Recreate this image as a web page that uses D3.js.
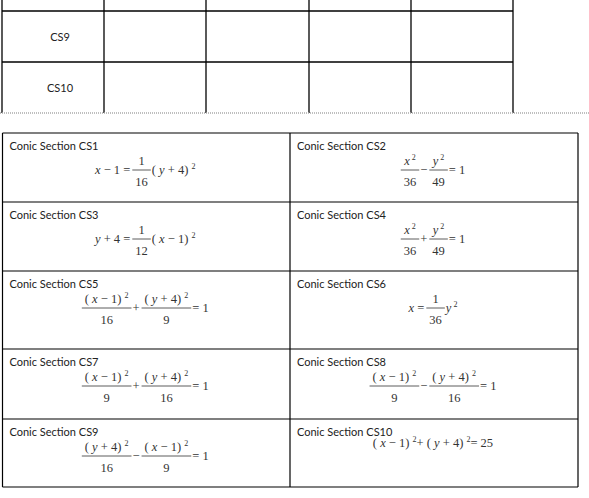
<!DOCTYPE html>
<html><head><meta charset="utf-8">
<script src="https://cdn.jsdelivr.net/npm/d3@7"></script>
<style>body{margin:0;background:#fff}</style>
</head><body><div id="chart"></div>
<script>
// top table (partial, cut off at top)
var topCols = [2, 104, 206, 309, 411, 513]
var topRows = ['CS9', 'CS10']

// bottom table
var labels = ['Conic Section CS1', 'Conic Section CS2', 'Conic Section CS3', 'Conic Section CS4',
  'Conic Section CS5', 'Conic Section CS6', 'Conic Section CS7', 'Conic Section CS8',
  'Conic Section CS9', 'Conic Section CS10']
// equation pieces: string = inline text ("^" = superscript 2), array = [numerator, denominator]
var equations = [
  ['x − 1 = ', ['1', '16'], '( y + 4) ^'],
  [['x^', '36'], ' − ', ['y^', '49'], ' = 1'],
  ['y + 4 = ', ['1', '12'], '( x − 1) ^'],
  [['x^', '36'], ' + ', ['y^', '49'], ' = 1'],
  [['( x − 1) ^', '16'], ' + ', ['( y + 4) ^', '9'], ' = 1'],
  ['x = ', ['1', '36'], 'y^'],
  [['( x − 1) ^', '9'], ' + ', ['( y + 4) ^', '16'], ' = 1'],
  [['( x − 1) ^', '9'], ' − ', ['( y + 4) ^', '16'], ' = 1'],
  [['( y + 4) ^', '16'], ' − ', ['( x − 1) ^', '9'], ' = 1'],
  ['( x − 1) ^+ ( y + 4) ^= 25']
]
var rowEdges = [133, 202, 271, 349, 419, 487]
var colEdges = [2.5, 290, 578]

var SERIF = "'Liberation Serif', 'DejaVu Serif', serif"
var SANS = 'Lato, sans-serif'

var svg = d3.select('#chart').append('svg').attr('width', 589).attr('height', 498)

// top table
var tg = svg.append('g')
topCols.forEach(function (x) {
  tg.append('line').attr('x1', x).attr('x2', x).attr('y1', 0).attr('y2', 113).attr('stroke', '#000').attr('stroke-width', 1.3)
})
;[11, 62].forEach(function (y) {
  tg.append('line').attr('x1', 2).attr('x2', 513).attr('y1', y).attr('y2', y).attr('stroke', '#000').attr('stroke-width', 1.3)
})
tg.append('line').attr('x1', 0).attr('x2', 589).attr('y1', 113).attr('y2', 113)
  .attr('stroke', '#aaa').attr('stroke-width', 1.5).attr('stroke-dasharray', '1 1')
topRows.forEach(function (t, i) {
  tg.append('text').attr('x', 60).attr('y', 41 + i * 51).attr('text-anchor', 'middle')
    .attr('font-family', SANS).attr('font-size', 11).attr('fill', '#222').text(t)
})

// bottom table grid
var g = svg.append('g')
rowEdges.forEach(function (y) {
  g.append('line').attr('x1', colEdges[0]).attr('x2', colEdges[2]).attr('y1', y).attr('y2', y).attr('stroke', '#000').attr('stroke-width', 1.2)
})
colEdges.forEach(function (x) {
  g.append('line').attr('x1', x).attr('x2', x).attr('y1', rowEdges[0]).attr('y2', rowEdges[5]).attr('stroke', '#000').attr('stroke-width', 1.2)
})

function addText (parent, str, x, y) {
  var t = parent.append('text').attr('x', x).attr('y', y)
    .attr('font-family', SERIF).attr('font-size', 12.5).attr('fill', '#333')
  var raised = false
  // split into runs: variables italic, '^' superscript 2
  var parts = str.match(/[xy]|\^|[^xy^]+/g)
  parts.forEach(function (s) {
    var sp = t.append('tspan')
    if (s === '^') {
      sp.attr('font-size', 8).attr('dy', -5).text(' 2')
      raised = true
      return
    }
    if (raised) { sp.attr('dy', 5); raised = false }
    if (s === 'x' || s === 'y') sp.attr('font-style', 'italic')
    sp.text(s)
  })
  return t
}

equations.forEach(function (eq, i) {
  var row = Math.floor(i / 2), col = i % 2
  var x0 = colEdges[col] + 7
  var lb = rowEdges[row] + 17
  g.append('text').attr('x', x0).attr('y', lb).attr('font-family', SANS)
    .attr('font-size', 11).attr('fill', '#222').text(labels[i])
  var eg = g.append('g')
  var bar = lb + 20
  var hasFrac = eq.some(function (p) { return Array.isArray(p) })
  var base = hasFrac ? bar + 4 : lb + 11
  var x = 0
  eq.forEach(function (p) {
    if (Array.isArray(p)) {
      var n = addText(eg, p[0], 0, bar - 5)
      var d = addText(eg, p[1], 0, bar + 16)
      var w = Math.max(n.node().getComputedTextLength(), d.node().getComputedTextLength()) + 6
      n.attr('x', x + w / 2).attr('text-anchor', 'middle')
      d.attr('x', x + w / 2).attr('text-anchor', 'middle')
      eg.append('line').attr('x1', x).attr('x2', x + w).attr('y1', bar).attr('y2', bar).attr('stroke', '#333').attr('stroke-width', 0.8)
      x += w + 1
    } else {
      var t = addText(eg, p, x, base)
      x += t.node().getComputedTextLength() + 2
    }
  })
  var cx = (colEdges[col] + colEdges[col + 1]) / 2
  eg.attr('transform', 'translate(' + (cx - x / 2) + ',0)')
})
</script></body></html>
